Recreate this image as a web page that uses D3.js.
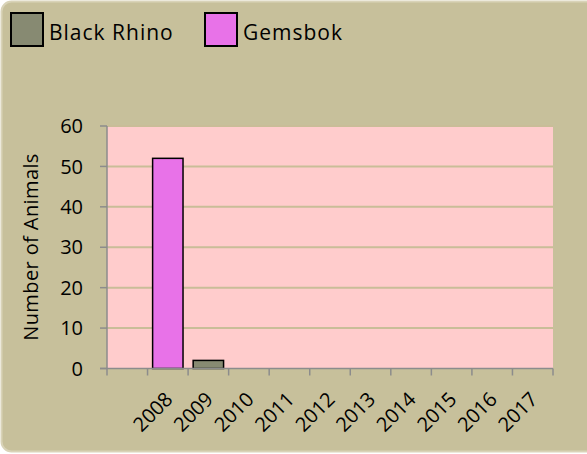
<!DOCTYPE html>
<html>
<head>
<meta charset="utf-8">
<script src="https://cdn.jsdelivr.net/npm/d3@7"></script>
<style>
body{margin:0;background:#fff;}
text{font-family:"Open Sans","Liberation Sans",sans-serif;fill:#000;}
</style>
</head>
<body>
<svg id="svg" width="587" height="454"></svg>
<script>
// chart values
var years=["","2008","2009","2010","2011","2012","2013","2014","2015","2016","2017"];
var blackRhino=[null,0,2,0,0,0,0,0,0,0,0];
var gemsbok=[null,52,0,0,0,0,0,0,0,0,0];
var yTicks=[0,10,20,30,40,50,60];
var seriesNames=["Black Rhino","Gemsbok"];
var seriesColors=["#878a72","#e872e8"];

var svg=d3.select("#svg");

// outer panel, runs off the right side like the original
svg.append("rect")
    .attr("x",1.5).attr("y",1.5)
    .attr("width",620).attr("height",450)
    .attr("rx",10)
    .attr("fill","#c7c09b")
    .attr("stroke","#d9d3b8").attr("stroke-width",2)

var pLeft=107,pTop=126,pRight=553,pBottom=368.5;
var x=d3.scaleBand().domain(d3.range(years.length)).range([pLeft,pRight]).padding(0)
var y=d3.scaleLinear().domain([0,60]).range([pBottom,pTop])

var g=svg.append("g")

g.append("rect")
    .attr("x",pLeft).attr("y",pTop)
    .attr("width",pRight-pLeft).attr("height",pBottom-pTop)
    .attr("fill","#ffcccc")

//gridlines
g.selectAll(".grid").data(yTicks.filter(d=>d>0)).enter().append("line")
    .attr("class","grid")
    .attr("x1",pLeft).attr("x2",pRight)
    .attr("y1",d=>y(d)).attr("y2",d=>y(d))
    .attr("stroke","#c9bd98").attr("stroke-width",2)

//bars, one per category, centered in the band
var bw=x.bandwidth()*0.75;
[blackRhino,gemsbok].forEach((vals,s)=>{
    g.selectAll(".bar"+s).data(vals.map((v,i)=>({v:v,i:i})).filter(d=>d.v>0)).enter().append("rect")
        .attr("class","bar"+s)
        .attr("x",d=>x(d.i)+(x.bandwidth()-bw)/2)
        .attr("y",d=>y(d.v))
        .attr("width",bw)
        .attr("height",d=>pBottom-y(d.v))
        .attr("fill",seriesColors[s])
        .attr("stroke","#000").attr("stroke-width",1.5)
})

//axes
var axisColor="#8c8c8c";
g.append("line").attr("x1",pLeft).attr("x2",pLeft).attr("y1",pTop).attr("y2",pBottom)
    .attr("stroke",axisColor).attr("stroke-width",1.5)
g.append("line").attr("x1",pLeft-7).attr("x2",pRight).attr("y1",pBottom).attr("y2",pBottom)
    .attr("stroke",axisColor).attr("stroke-width",1.5)

g.selectAll(".ytick").data(yTicks).enter().append("line")
    .attr("x1",pLeft-7).attr("x2",pLeft)
    .attr("y1",d=>y(d)).attr("y2",d=>y(d))
    .attr("stroke",axisColor).attr("stroke-width",1.5)

g.selectAll(".ylab").data(yTicks).enter().append("text")
    .attr("x",83).attr("y",d=>y(d))
    .attr("dy","0.36em")
    .attr("text-anchor","end")
    .style("font-size","20px")
    .text(d=>d)

var edges=d3.range(years.length+1).map(i=>pLeft+i*x.step());
g.selectAll(".xtick").data(edges).enter().append("line")
    .attr("x1",d=>d).attr("x2",d=>d)
    .attr("y1",pBottom).attr("y2",pBottom+7)
    .attr("stroke",axisColor).attr("stroke-width",1.5)

g.selectAll(".xlab").data(years.map((d,i)=>({t:d,i:i})).filter(d=>d.t)).enter().append("text")
    .attr("transform",d=>"translate("+(x(d.i)+x.bandwidth()/2+1)+","+(pBottom+27)+") rotate(-45)")
    .attr("text-anchor","end")
    .attr("dy","0.36em")
    .style("font-size","20px")
    .text(d=>d.t)

//y axis title
svg.append("text")
    .attr("transform","translate(38,247) rotate(-90)")
    .attr("text-anchor","middle")
    .style("font-size","20px")
    .style("letter-spacing","0.4px")
    .text("Number of Animals")

//legend
var legend=svg.selectAll(".legend").data(seriesNames).enter().append("g")
    .attr("transform",(d,i)=>"translate("+[11,205][i]+",13)")
legend.append("rect")
    .attr("width",32).attr("height",33)
    .attr("fill",(d,i)=>seriesColors[i])
    .attr("stroke","#000").attr("stroke-width",2)
legend.append("text")
    .attr("x",38).attr("y",27)
    .style("font-size","21px")
    .style("letter-spacing","1px")
    .text(d=>d)
</script>
</body>
</html>
